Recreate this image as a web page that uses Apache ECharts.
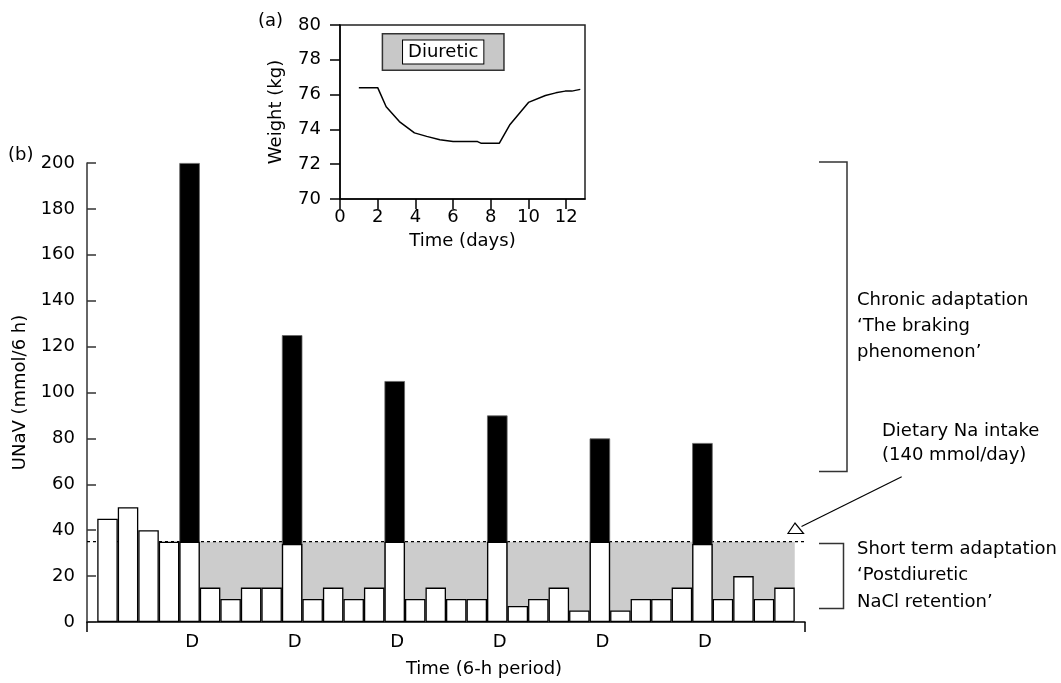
<!DOCTYPE html>
<html><head><meta charset="utf-8">
<script src="https://cdn.jsdelivr.net/npm/echarts@6/dist/echarts.min.js"></script>
<style>html,body{margin:0;padding:0;background:#fff}#c{width:1061px;height:683px}</style>
</head><body><div id="c"></div>
<script>
// ---- data ----
const periods = [1,2,3,4,5,6,7,8,9,10,11,12,13,14,15,16,17,18,19,20,21,22,23,24,25,26,27,28,29,30,31,32,33,34];
const uNaVBase = [45,50,40,35,35,15,10,15,15,34,10,15,10,15,35,10,15,10,10,35,7,10,15,5,35,5,10,10,15,34,10,20,10,15];
const diureticPeriods = [5,10,15,20,25,30];
const diureticPeaks = [200,125,105,90,80,78];
const dietaryIntakePer6h = 35;          // 140 mmol/day over four 6-h periods
const uNaVTickStep = 20;
const weightDays = [1.0,2.0,2.45,3.15,3.95,4.6,5.3,6.0,7.3,7.5,8.45,9.0,9.5,10.0,10.9,11.45,11.95,12.3,12.75];
const weightKg   = [76.4,76.4,75.3,74.45,73.8,73.6,73.4,73.3,73.3,73.2,73.2,74.25,74.9,75.55,75.95,76.1,76.2,76.2,76.3];
const dayTicks = [0,2,4,6,8,10,12];
const diureticDays = [2.25, 8.7];

// ---- build ----
const FONT = 'DejaVu Sans';
const whiteData = periods.map((p, i) => [p, uNaVBase[i]]);
// total natriuresis on diuretic periods (black part shows above the baseline white part)
const peakData = diureticPeriods.map((p, k) => [p, diureticPeaks[k]]);
const G = {left: 87, top: 163, width: 718, height: 459};
const barW = G.width / (periods.length + 1);

const chart = echarts.init(document.getElementById('c'), null, {renderer: 'canvas'});
const txt = {fontFamily: FONT, fontSize: 18, color: '#000'};
chart.setOption({
  animation: false,
  backgroundColor: '#fff',
  textStyle: {fontFamily: FONT},
  grid: [
    Object.assign({containLabel: false}, G),
    {left: 340, top: 25, width: 245, height: 174, show: true, borderColor: '#222', borderWidth: 1.5, backgroundColor: 'transparent'}
  ],
  xAxis: [
    {type: 'value', gridIndex: 0, min: 0, max: periods.length + 1,
     axisLine: {show: true, lineStyle: {color: '#000', width: 1.5}},
     axisTick: {show: true, inside: false, length: 10, customValues: [0, periods.length + 1], lineStyle: {color: '#000', width: 1.5}},
     axisLabel: Object.assign({customValues: diureticPeriods, formatter: () => 'D', margin: 11, padding: [0, 0, 0, 5]}, txt),
     splitLine: {show: false},
     name: 'Time (6-h period)', nameLocation: 'middle', nameGap: 38,
     nameTextStyle: Object.assign({padding: [0, 0, 0, 76]}, txt)},
    {type: 'value', gridIndex: 1, min: 0, max: 13,
     axisLine: {show: true, lineStyle: {color: '#000', width: 1.5}},
     axisTick: {show: true, length: 10, customValues: dayTicks, lineStyle: {color: '#000', width: 1.5}},
     axisLabel: Object.assign({customValues: dayTicks, margin: 9}, txt),
     splitLine: {show: false},
     name: 'Time (days)', nameLocation: 'middle', nameGap: 33, nameTextStyle: txt}
  ],
  yAxis: [
    {type: 'value', gridIndex: 0, min: 0, max: 200, interval: uNaVTickStep,
     axisLine: {show: true, lineStyle: {color: '#333', width: 1.5}},
     axisTick: {show: true, inside: true, length: 9, lineStyle: {color: '#333', width: 1.5}},
     axisLabel: Object.assign({margin: 12}, txt),
     splitLine: {show: false},
     name: 'UNaV (mmol/6 h)', nameLocation: 'middle', nameRotate: 90, nameGap: 44, nameTextStyle: txt},
    {type: 'value', gridIndex: 1, min: 70, max: 80, interval: 2,
     axisLine: {show: true, lineStyle: {color: '#000', width: 1.5}},
     axisTick: {show: true, inside: false, length: 10, lineStyle: {color: '#000', width: 1.5}},
     axisLabel: Object.assign({margin: 19}, txt),
     splitLine: {show: false},
     name: 'Weight (kg)', nameLocation: 'middle', nameRotate: 90, nameGap: 55, nameTextStyle: txt}
  ],
  series: [
    {type: 'line', xAxisIndex: 0, yAxisIndex: 0, data: [], z: 1, silent: true,
     markArea: {silent: true, itemStyle: {color: '#cccccc'},
       data: [[{coord: [diureticPeriods[0] + 0.5, 0]}, {coord: [periods[periods.length - 1] + 0.5, dietaryIntakePer6h]}]]}},
    {type: 'line', xAxisIndex: 0, yAxisIndex: 0, z: 2, silent: true, symbol: 'none',
     data: [[0, dietaryIntakePer6h], [periods.length + 1, dietaryIntakePer6h]],
     lineStyle: {color: '#000', width: 1.2, type: [3, 3]}},
    {type: 'bar', name: 'Diuretic response', xAxisIndex: 0, yAxisIndex: 0, z: 3, barWidth: barW, barGap: '-100%',
     data: peakData, itemStyle: {color: '#000', borderColor: '#666', borderWidth: 0.8}},
    {type: 'bar', name: 'UNaV', xAxisIndex: 0, yAxisIndex: 0, z: 4, barWidth: barW, barGap: '-100%',
     data: whiteData, itemStyle: {color: '#fff', borderColor: '#000', borderWidth: 1.3}},
    {type: 'line', name: 'Weight', xAxisIndex: 1, yAxisIndex: 1, symbol: 'none', z: 3,
     data: weightDays.map((d, i) => [d, weightKg[i]]),
     lineStyle: {color: '#000', width: 1.5},
     markArea: {silent: true,
       itemStyle: {color: '#c8c8c8', borderColor: '#333', borderWidth: 1.5},
       label: {show: true, position: 'inside', formatter: 'Diuretic', fontFamily: FONT, fontSize: 18, color: '#000',
               backgroundColor: '#fff', borderColor: '#000', borderWidth: 1, padding: [3, 5, 2, 5]},
       data: [[{coord: [diureticDays[0], 79.5]}, {coord: [diureticDays[1], 77.4]}]]}}
  ],
  graphic: [
    {type: 'text', left: 258, top: 12, style: {text: '(a)', fill: '#000', font: '18px "DejaVu Sans"'}},
    {type: 'text', left: 8, top: 146, style: {text: '(b)', fill: '#000', font: '18px "DejaVu Sans"'}},
    {type: 'polyline', shape: {points: [[819, 162], [847, 162], [847, 471.5], [819, 471.5]]}, style: {stroke: '#333', lineWidth: 1.5, fill: null}},
    {type: 'polyline', shape: {points: [[819, 543.5], [843.5, 543.5], [843.5, 608.5], [819, 608.5]]}, style: {stroke: '#333', lineWidth: 1.5, fill: null}},
    {type: 'line', shape: {x1: 901.7, y1: 476.7, x2: 801.5, y2: 526.5}, style: {stroke: '#000', lineWidth: 1.2}},
    {type: 'polygon', shape: {points: [[795, 523], [788, 533.5], [803.5, 533.5]]}, style: {stroke: '#000', lineWidth: 1.2, fill: '#fff'}},
    {type: 'text', left: 857, top: 287, style: {text: 'Chronic adaptation\n\u2018The braking\nphenomenon\u2019', fill: '#000', font: '18px "DejaVu Sans"', lineHeight: 26}},
    {type: 'text', left: 882, top: 419, style: {text: 'Dietary Na intake\n(140 mmol/day)', fill: '#000', font: '18px "DejaVu Sans"', lineHeight: 24}},
    {type: 'text', left: 857, top: 536, style: {text: 'Short term adaptation\n\u2018Postdiuretic\nNaCl retention\u2019', fill: '#000', font: '18px "DejaVu Sans"', lineHeight: 26.5}}
  ]
});
</script></body></html>
